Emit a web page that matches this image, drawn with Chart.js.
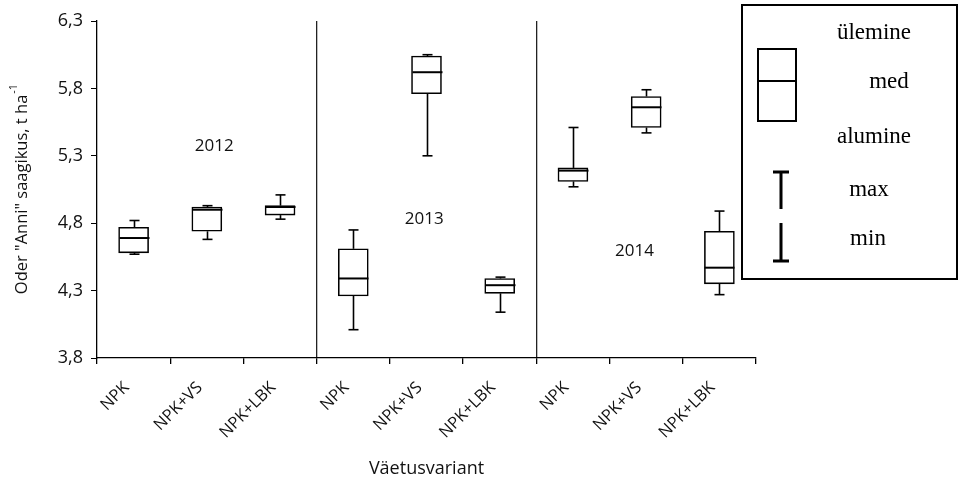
<!DOCTYPE html>
<html lang="et">
<head>
    <meta charset="UTF-8">
    <title>Oder "Anni" saagikus</title>
    <script src="https://cdn.jsdelivr.net/npm/chart.js"></script>
    <style>
        html, body { margin: 0; padding: 0; background: #fff; }
        .chart-container { position: relative; width: 958px; height: 483px; }
    </style>
</head>
<body>
    <div class="chart-container">
        <canvas id="boxChart"></canvas>
    </div>

    <script>
        // --- data ---
        const categories = ['NPK', 'NPK+VS', 'NPK+LBK', 'NPK', 'NPK+VS', 'NPK+LBK', 'NPK', 'NPK+VS', 'NPK+LBK'];
        const minVals = [4.57, 4.68, 4.83, 4.01, 5.30, 4.14, 5.07, 5.47, 4.27];
        const q1Vals  = [4.58, 4.74, 4.86, 4.26, 5.76, 4.28, 5.11, 5.51, 4.35];
        const medVals = [4.69, 4.90, 4.92, 4.39, 5.92, 4.34, 5.19, 5.66, 4.47];
        const q3Vals  = [4.77, 4.92, 4.93, 4.61, 6.04, 4.39, 5.21, 5.74, 4.74];
        const maxVals = [4.82, 4.93, 5.01, 4.75, 6.05, 4.40, 5.51, 5.79, 4.89];
        const yTickValues = [3.8, 4.3, 4.8, 5.3, 5.8, 6.3];
        const years = ['2012', '2013', '2014'];
        const legendLabels = ['ülemine', 'med', 'alumine', 'max', 'min'];

        const yTitle = 'Oder "Anni" saagikus, t ha';
        const yTitleSup = '-1';
        const xTitle = 'Väetusvariant';

        const ink = '#111';
        const sans = "'Open Sans', sans-serif";
        const serif = "'Liberation Serif', 'Times New Roman', serif";

        // whiskers, caps and medians, drawn through the chart's scales
        const whiskerPlugin = {
            id: 'whiskers',
            afterDatasetsDraw(chart) {
                const { ctx, scales: { x, y } } = chart;
                ctx.save();
                ctx.strokeStyle = '#000';
                ctx.lineWidth = 1.6;
                categories.forEach((c, i) => {
                    const xc = Math.round(x.getPixelForValue(i)) + 0.5;
                    const line = (x1, y1, x2, y2) => {
                        ctx.beginPath();
                        ctx.moveTo(x1, y1);
                        ctx.lineTo(x2, y2);
                        ctx.stroke();
                    };
                    line(xc, y.getPixelForValue(q3Vals[i]), xc, y.getPixelForValue(maxVals[i]));
                    line(xc - 5, y.getPixelForValue(maxVals[i]), xc + 5, y.getPixelForValue(maxVals[i]));
                    line(xc, y.getPixelForValue(q1Vals[i]), xc, y.getPixelForValue(minVals[i]));
                    line(xc - 5, y.getPixelForValue(minVals[i]), xc + 5, y.getPixelForValue(minVals[i]));
                    ctx.lineWidth = 2;
                    line(xc - 15, y.getPixelForValue(medVals[i]), xc + 15, y.getPixelForValue(medVals[i]));
                    ctx.lineWidth = 1.6;
                });
                ctx.restore();
            }
        };

        // year labels, y title with superscript, and the hand-drawn key on the right
        const annotationPlugin = {
            id: 'annotations',
            afterDraw(chart) {
                const { ctx, chartArea, scales: { x, y } } = chart;
                ctx.save();
                ctx.fillStyle = ink;

                // year labels placed in data space
                const yearPos = [[1.1, 5.37], [3.97, 4.83], [6.84, 4.59]];
                ctx.font = `17px ${sans}`;
                ctx.textAlign = 'center';
                ctx.textBaseline = 'middle';
                years.forEach((yr, i) => {
                    ctx.fillText(yr, x.getPixelForValue(yearPos[i][0]), y.getPixelForValue(yearPos[i][1]));
                });

                // y axis title with superscript
                ctx.save();
                const cy = (chartArea.top + chartArea.bottom) / 2;
                ctx.translate(22, cy);
                ctx.rotate(-Math.PI / 2);
                ctx.font = `16.5px ${sans}`;
                const w1 = ctx.measureText(yTitle).width;
                ctx.font = `11px ${sans}`;
                const w2 = ctx.measureText(yTitleSup).width;
                const start = -(w1 + w2) / 2;
                ctx.textAlign = 'left';
                ctx.textBaseline = 'middle';
                ctx.font = `16.5px ${sans}`;
                ctx.fillText(yTitle, start, 0);
                ctx.font = `11px ${sans}`;
                ctx.fillText(yTitleSup, start + w1 + 1, -8);
                ctx.restore();

                // key box
                const L = chartArea.right - 14, T = 5, W = 215, H = 274;
                ctx.strokeStyle = '#000';
                ctx.lineWidth = 2;
                ctx.strokeRect(L, T, W, H);
                ctx.strokeRect(L + 16, T + 44, 38, 72);
                ctx.beginPath();
                ctx.moveTo(L + 16, T + 76);
                ctx.lineTo(L + 54, T + 76);
                ctx.stroke();

                ctx.lineWidth = 3;
                const kx = L + 39;
                ctx.beginPath();
                ctx.moveTo(kx - 8, T + 167); ctx.lineTo(kx + 8, T + 167);
                ctx.moveTo(kx, T + 167); ctx.lineTo(kx, T + 204);
                ctx.moveTo(kx, T + 218); ctx.lineTo(kx, T + 256);
                ctx.moveTo(kx - 8, T + 256); ctx.lineTo(kx + 8, T + 256);
                ctx.stroke();

                ctx.fillStyle = '#000';
                ctx.font = `23px ${serif}`;
                ctx.textAlign = 'center';
                ctx.textBaseline = 'middle';
                const keyPos = [[132, 28], [147, 77], [132, 132], [127, 185], [126, 234]];
                legendLabels.forEach((t, i) => ctx.fillText(t, L + keyPos[i][0], T + keyPos[i][1]));
                ctx.restore();
            }
        };

        const ctx = document.getElementById('boxChart').getContext('2d');
        new Chart(ctx, {
            type: 'bar',
            data: {
                labels: categories,
                datasets: [{
                    label: 'box',
                    data: q1Vals.map((q, i) => [q, q3Vals[i]]),
                    backgroundColor: '#fff',
                    borderColor: '#000',
                    borderWidth: 1.6,
                    borderSkipped: false,
                    barThickness: 30
                }]
            },
            options: {
                responsive: true,
                maintainAspectRatio: false,
                animation: false,
                layout: { padding: { top: 21, right: 202, left: 0, bottom: 0 } },
                plugins: {
                    legend: { display: false },
                    tooltip: { enabled: false }
                },
                scales: {
                    x: {
                        offset: true,
                        grid: {
                            offset: true,
                            drawOnChartArea: true,
                            color: c => (c.index === 3 || c.index === 6) ? '#222' : 'rgba(0,0,0,0)',
                            lineWidth: 1.3,
                            tickColor: '#000',
                            tickLength: 6
                        },
                        border: { color: '#000', width: 1.3 },
                        ticks: {
                            color: ink,
                            font: { family: sans, size: 16.5 },
                            minRotation: 45,
                            maxRotation: 45,
                            autoSkip: false,
                            labelOffset: -7,
                            padding: 14
                        },
                        title: {
                            display: true,
                            text: xTitle,
                            color: ink,
                            font: { family: sans, size: 18 },
                            padding: { top: 4, bottom: 3 }
                        },
                        afterFit: s => { s.height = 125; }
                    },
                    y: {
                        min: 3.8,
                        max: 6.3,
                        grid: {
                            drawOnChartArea: false,
                            drawTicks: true,
                            tickLength: 6,
                            tickColor: '#000'
                        },
                        border: { color: '#000', width: 1.3 },
                        afterBuildTicks: s => { s.ticks = yTickValues.map(v => ({ value: v })); },
                        ticks: {
                            color: ink,
                            font: { family: sans, size: 18 },
                            padding: 8,
                            callback: v => Number(v).toFixed(1).replace('.', ',')
                        },
                        afterFit: s => { s.width = 97; }
                    }
                }
            },
            plugins: [whiskerPlugin, annotationPlugin]
        });
    </script>
</body>
</html>
